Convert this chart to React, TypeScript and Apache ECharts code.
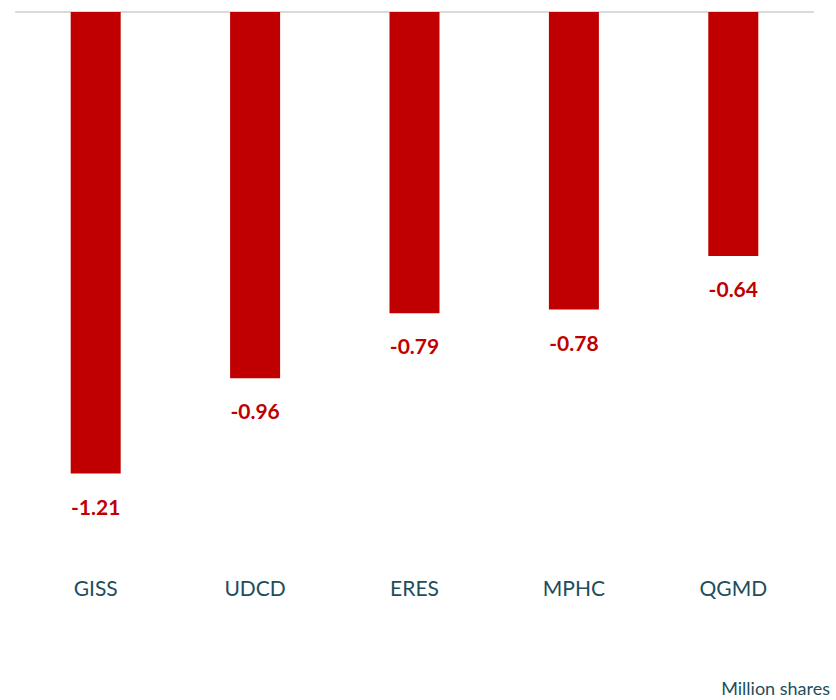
import React, { useEffect, useRef } from "react";
import * as echarts from "echarts";

const categories = ["GISS", "UDCD", "ERES", "MPHC", "QGMD"];
const values = [-1.21, -0.96, -0.79, -0.78, -0.64];
const unitLabel = "Million shares";

export default function App() {
  const ref = useRef<HTMLDivElement>(null);
  useEffect(() => {
    const chart = echarts.init(ref.current!, null, { renderer: "svg" });
    chart.setOption({
      animation: false,
      grid: { left: 16, right: 23, top: 12, bottom: 154, containLabel: false },
      xAxis: [
        {
          type: "category",
          data: categories,
          position: "bottom",
          axisLine: { show: false },
          axisTick: { show: false },
          axisLabel: {
            color: "#1d4e5c",
            fontSize: 21,
            fontFamily: "Lato",
            margin: 31,
          },
        },
        {
          type: "category",
          data: categories,
          position: "top",
          axisLine: { show: true, onZero: false, lineStyle: { color: "#d9d9d9", width: 2 } },
          axisTick: { show: false },
          axisLabel: { show: false },
        },
      ],
      yAxis: {
        type: "value",
        min: -1.4,
        max: 0,
        show: false,
        splitLine: { show: false },
      },
      series: [
        {
          type: "bar",
          data: values,
          barWidth: 50,
          itemStyle: { color: "#c00000" },
          label: {
            show: true,
            position: "bottom",
            distance: 22,
            color: "#c00000",
            fontWeight: "bold",
            fontSize: 21,
            fontFamily: "Lato",
            formatter: (p: any) => p.value.toFixed(2),
          },
        },
      ],
      graphic: [
        {
          type: "text",
          right: 6,
          top: 679,
          style: {
            text: unitLabel,
            fill: "#1d4e5c",
            fontSize: 18,
            fontFamily: "Lato",
          },
        },
      ],
    });
    return () => chart.dispose();
  }, []);
  return <div ref={ref} style={{ width: 836, height: 700, position: "absolute", left: 0, top: 0 }} />;
}
